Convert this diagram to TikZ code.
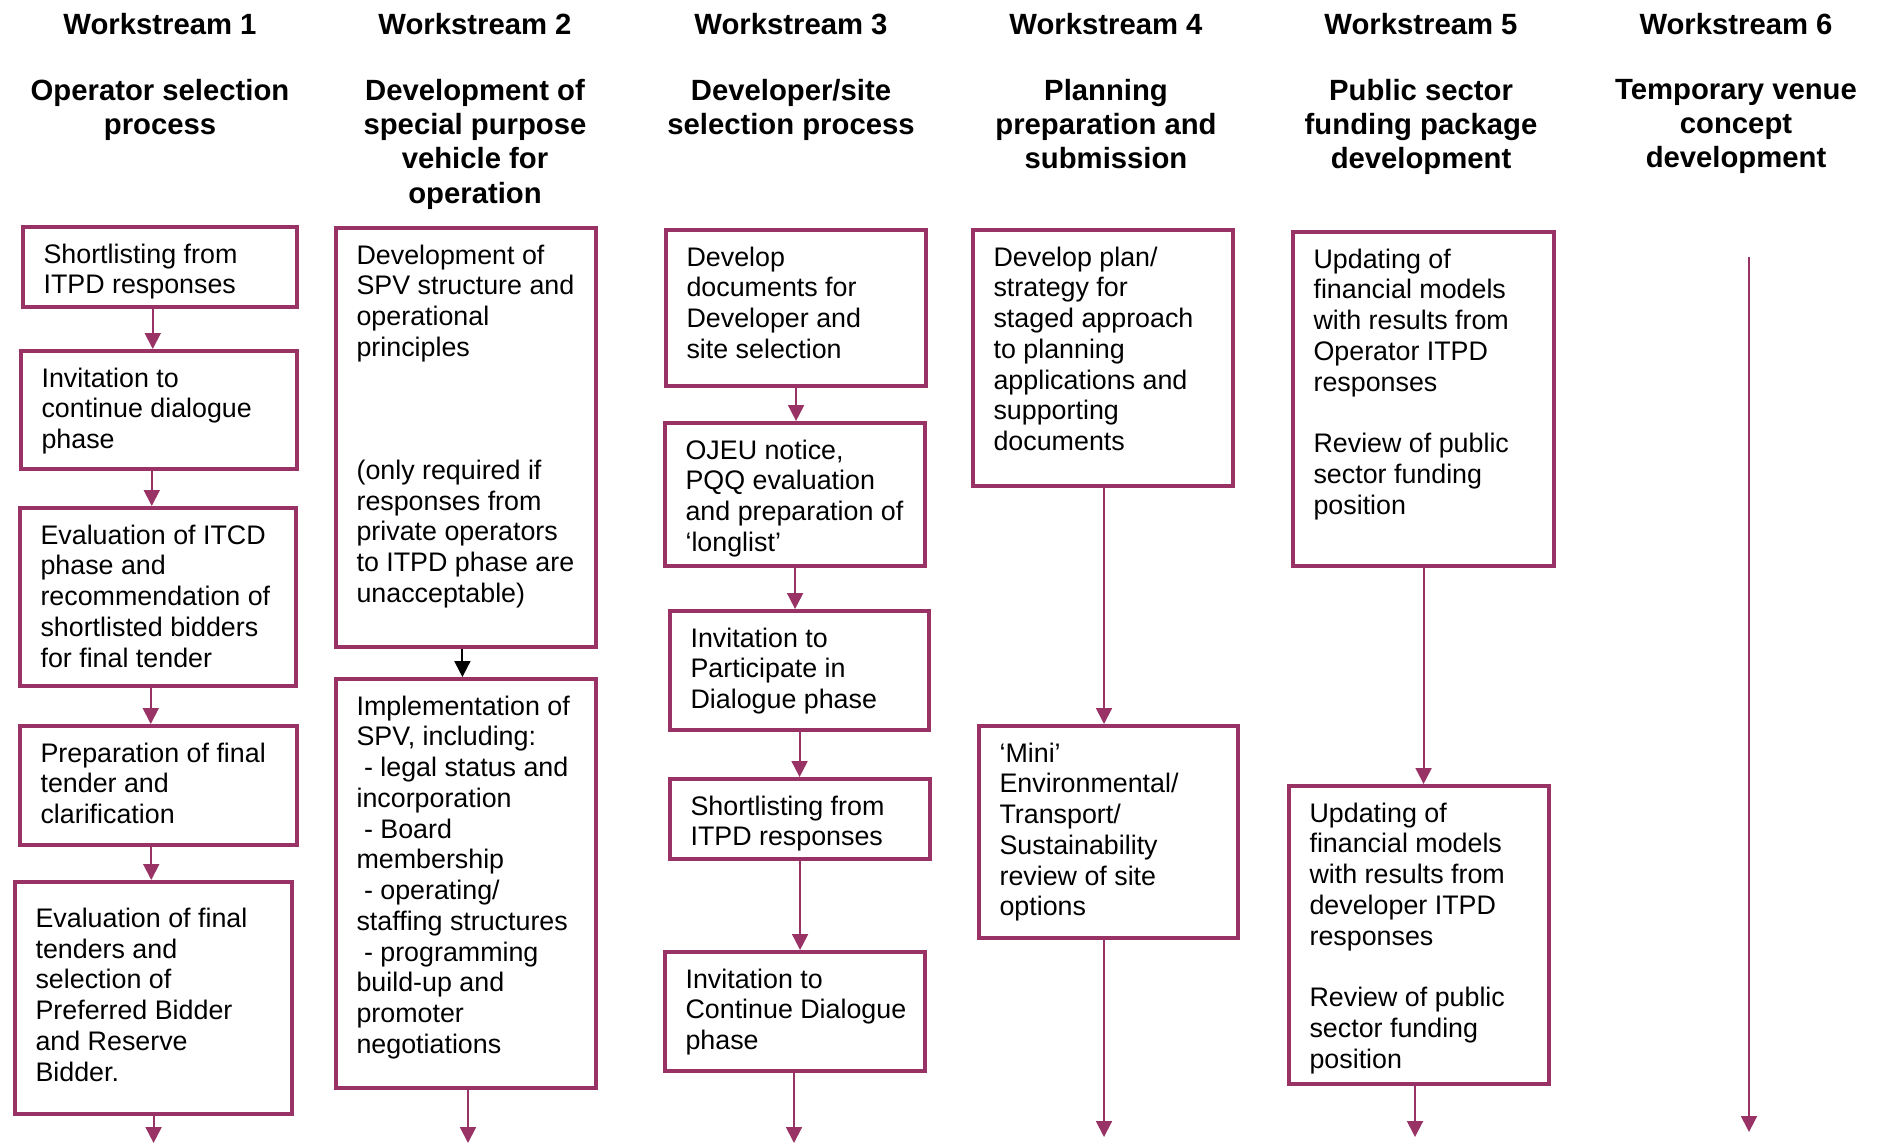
\documentclass[tikz,border=0pt]{standalone}
\usepackage{fontspec}
\setmainfont{Liberation Sans}
\usepackage{xcolor}
\usepackage{tikz}
\usetikzlibrary{arrows.meta}
\definecolor{wsPlum}{HTML}{993366}
\newlength{\pxu}
\setlength{\pxu}{0.41pt}
% box text: [inner pos]{width}{height}{lines}, sizes in pixels
\newcommand{\boxtext}[4][t]{%
  \begin{minipage}[t][\dimexpr#3\pxu-12pt\relax][#1]{\dimexpr#2\pxu-16.8pt\relax}%
    \begin{tabular}[t]{@{}l@{}}#4\end{tabular}%
  \end{minipage}}

\begin{document}
\begin{tikzpicture}[
    x=0.41pt, y=-0.41pt,
    wsbox/.style={rectangle,draw=wsPlum,line width=1.7pt,anchor=north west,
                  inner xsep=8.4pt,inner ysep=6pt,
                  font=\fontsize{11}{12.6}\selectfont},
    arr/.style={-{Triangle[width=6.5pt,length=6.5pt]},line width=0.8pt,wsPlum},
    head/.style={inner sep=0pt,font=\bfseries\fontsize{12}{14}\selectfont},
    title/.style={head,align=center,anchor=north}
  ]
  \useasboundingbox (0,0) rectangle (1877,1144);
  %% Column headings
  \node[head] (h1) at (160,24)  {Workstream 1};
  \node[head] (h2) at (475,24)  {Workstream 2};
  \node[head] (h3) at (791,24)  {Workstream 3};
  \node[head] (h4) at (1106,24) {Workstream 4};
  \node[head] (h5) at (1421,24) {Workstream 5};
  \node[head] (h6) at (1736,24) {Workstream 6};
  \node[title] (t1) at (160,79)  {Operator selection\\process};
  \node[title] (t2) at (475,79)  {Development of\\special purpose\\vehicle for\\operation};
  \node[title] (t3) at (791,79)  {Developer/site\\selection process};
  \node[title] (t4) at (1106,79) {Planning\\preparation and\\submission};
  \node[title] (t5) at (1421,79) {Public sector\\funding package\\development};
  \node[title] (t6) at (1736,79) {Temporary venue\\concept\\development};
  %% Workstream 1
  \node[wsbox] (a1) at (21,225) {\boxtext{274}{80}{Shortlisting from\\ITPD responses}};
  \node[wsbox] (a2) at (19,349) {\boxtext{276}{118}{Invitation to\\continue dialogue\\phase}};
  \node[wsbox] (a3) at (18,506) {\boxtext{276}{178}{Evaluation of ITCD\\phase and\\recommendation of\\shortlisted bidders\\for final tender}};
  \node[wsbox] (a4) at (18,724) {\boxtext{277}{119}{Preparation of final\\tender and\\clarification}};
  \node[wsbox] (a5) at (13,880) {\boxtext[c]{277}{232}{Evaluation of final\\tenders and\\selection of\\Preferred Bidder\\and Reserve\\Bidder.}};
  \coordinate (a6) at (151,1143);
  \draw[arr] ([xshift=-3pt]a1.south) -- ([xshift=-3pt]a1.south |- a2.north);
  \draw[arr] ([xshift=-3pt]a2.south) -- ([xshift=-3pt]a2.south |- a3.north);
  \draw[arr] ([xshift=-3pt]a3.south) -- ([xshift=-3pt]a3.south |- a4.north);
  \draw[arr] ([xshift=-3pt]a4.south) -- ([xshift=-3pt]a4.south |- a5.north);
  \draw[arr] (a5.south) -- (a5.south |- a6);
  %% Workstream 2
  \node[wsbox] (b1) at (334,226) {\boxtext{260}{419}{Development of\\SPV structure and\\operational\\principles\\ \\ \\ \\(only required if\\responses from\\private operators\\to ITPD phase are\\unacceptable)}};
  \node[wsbox] (b2) at (334,677) {\boxtext{260}{409}{Implementation of\\SPV, including:\\\ - legal status and\\incorporation\\\ - Board\\membership\\\ - operating/\\staffing structures\\\ - programming\\build-up and\\promoter\\negotiations}};
  \coordinate (b3) at (468,1143);
  \draw[arr,black] ([xshift=-1.5pt]b1.south) -- ([xshift=-1.5pt]b1.south |- b2.north);
  \draw[arr] (b2.south -| b3) -- (b3);
  %% Workstream 3
  \node[wsbox] (c1) at (664,228) {\boxtext{260}{156}{Develop\\documents for\\Developer and\\site selection}};
  \node[wsbox] (c2) at (663,421) {\boxtext{260}{143}{OJEU notice,\\PQQ evaluation\\and preparation of\\‘longlist’}};
  \node[wsbox] (c3) at (668,609) {\boxtext{259}{119}{Invitation to\\Participate in\\Dialogue phase}};
  \node[wsbox] (c4) at (668,777) {\boxtext{260}{80}{Shortlisting from\\ITPD responses}};
  \node[wsbox] (c5) at (663,950) {\boxtext{260}{119}{Invitation to\\Continue Dialogue\\phase}};
  \coordinate (c6) at (794,1143);
  \draw[arr] (c1.south) -- (c1.south |- c2.north);
  \draw[arr] (c2.south) -- (c2.south |- c3.north);
  \draw[arr] (c3.south) -- (c3.south |- c4.north);
  \draw[arr] (c4.south) -- (c4.south |- c5.north);
  \draw[arr] (c5.south -| c6) -- (c6);
  %% Workstream 4
  \node[wsbox] (d1) at (971,228) {\boxtext{260}{256}{Develop plan/\\strategy for\\staged approach\\to planning\\applications and\\supporting\\documents}};
  \node[wsbox] (d2) at (977,724) {\boxtext{259}{212}{‘Mini’\\Environmental/\\Transport/\\Sustainability\\review of site\\options}};
  \coordinate (d3) at (1104,1137);
  \draw[arr] (d1.south -| d3) -- (d3 |- d2.north);
  \draw[arr] (d2.south -| d3) -- (d3);
  %% Workstream 5
  \node[wsbox] (e1) at (1291,230) {\boxtext{261}{334}{Updating of\\financial models\\with results from\\Operator ITPD\\responses\\ \\Review of public\\sector funding\\position}};
  \node[wsbox] (e2) at (1287,784) {\boxtext{260}{298}{Updating of\\financial models\\with results from\\developer ITPD\\responses\\ \\Review of public\\sector funding\\position}};
  \coordinate (e3) at (1415,1137);
  \draw[arr] (e1.south) -- (e1.south |- e2.north);
  \draw[arr] (e2.south -| e3) -- (e3);
  %% Workstream 6
  \coordinate (f0) at (1749,257);
  \coordinate (f1) at (1749,1132);
  \draw[arr] (f0) -- (f1);
\end{tikzpicture}
\end{document}
